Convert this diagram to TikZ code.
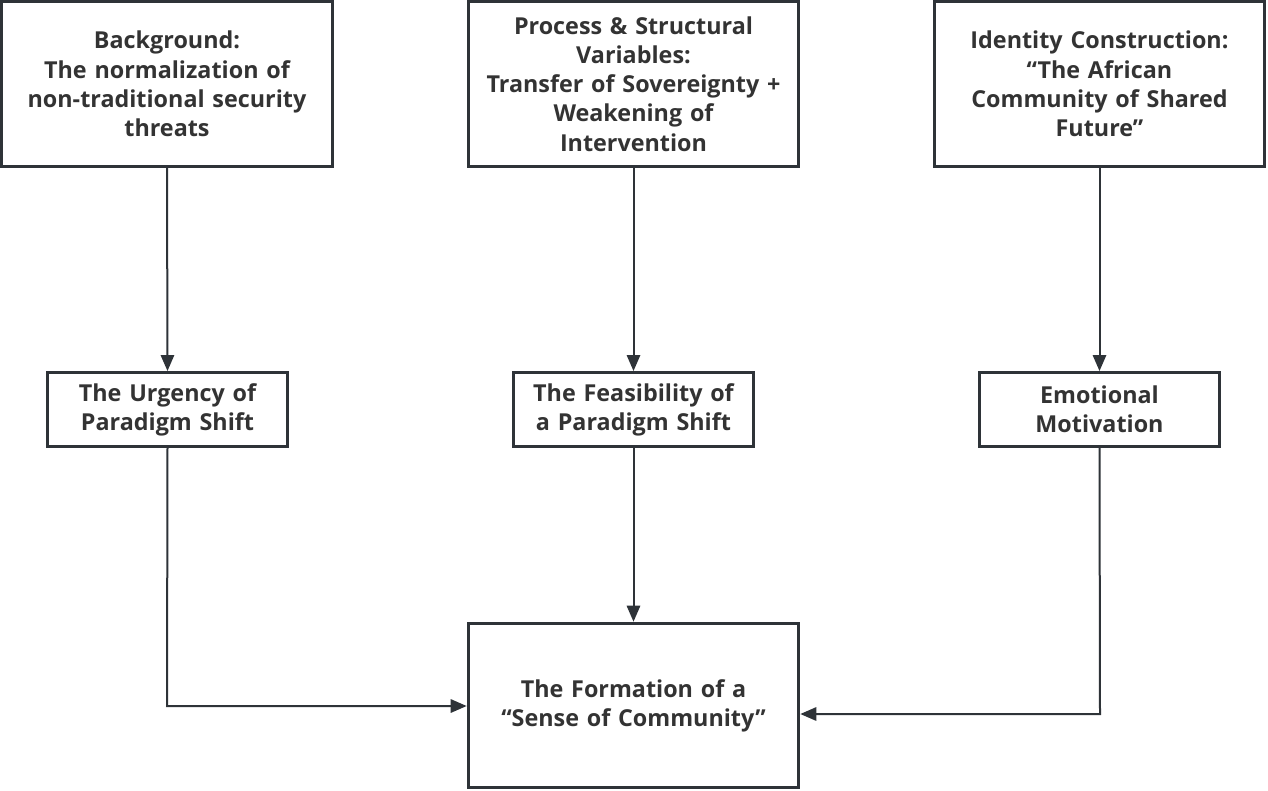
\documentclass[tikz,border=0pt]{standalone}
\usepackage{fontspec}
\setmainfont{Open Sans}
\usetikzlibrary{arrows.meta}
\definecolor{ink}{HTML}{2E3338}
\definecolor{txt}{HTML}{333333}
\begin{document}
\begin{tikzpicture}[x=0.75pt,y=-0.75pt,
  box/.style={draw=ink,line width=2.2pt,fill=white,align=center,inner sep=0pt,
    font=\bfseries\fontsize{17.5}{21.9}\selectfont,text=txt},
  big/.style={box,minimum width=248pt,minimum height=123.5pt,text width=244pt},
  mid/.style={box,minimum width=180pt,minimum height=55.5pt,text width=176pt},
  conn/.style={draw=ink,line width=1.5pt,-{Triangle[length=12pt,width=10pt]}}]
\useasboundingbox (0,0) rectangle (1268,790);
\node[big] (b1) at (167,84) {Background:\\The normalization of\\non-traditional security\\threats};
\node[big] (b2) at (633.5,84) {Process \& Structural\\Variables:\\Transfer of Sovereignty +\\Weakening of\\Intervention};
\node[big] (b3) at (1099.5,84) {Identity Construction:\\“The African\\Community of Shared\\Future”};
\node[mid] (m1) at (167.5,409.5) {The Urgency of\\Paradigm Shift};
\node[mid] (m2) at (633.5,409.5) {The Feasibility of\\a Paradigm Shift};
\node[mid] (m3) at (1099.5,409.5) {Emotional\\Motivation};
\node[big] (f) at (633.5,705.5) {The Formation of a\\“Sense of Community”};
\draw[conn] (b1.south) -- (m1.north);
\draw[conn] (b2.south) -- (m2.north);
\draw[conn] (b3.south) -- (m3.north);
\draw[conn] (m2.south) -- (f.north);
\coordinate (c1) at (167,706);
\coordinate (c2) at (1100,714);
\draw[conn] (m1.south) -- (c1) -- (f.west |- c1);
\draw[conn] (m3.south) -- (c2) -- (f.east |- c2);
\end{tikzpicture}
\end{document}
